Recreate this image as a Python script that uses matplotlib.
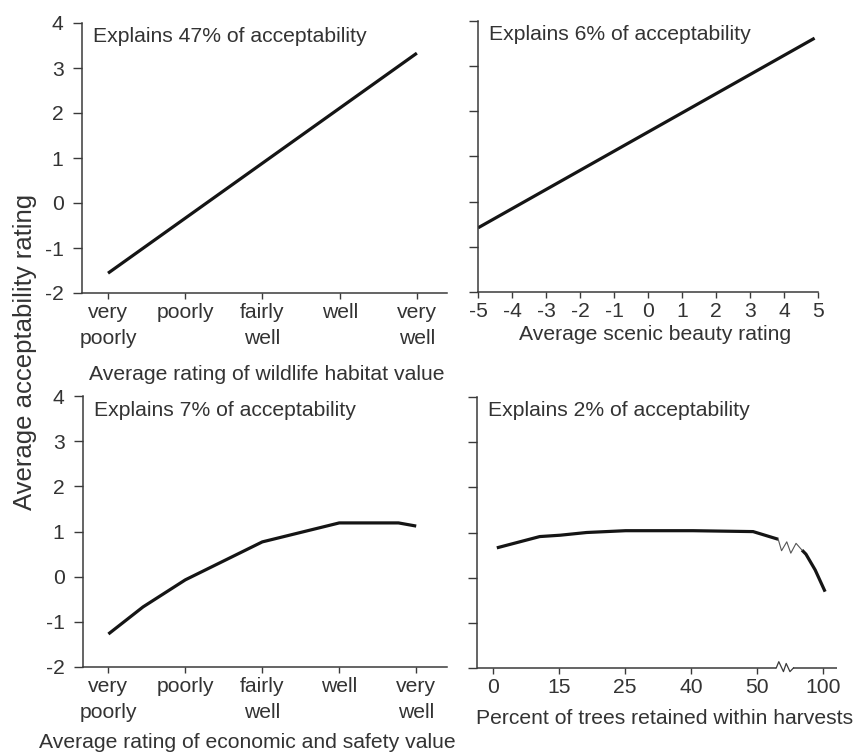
import numpy as np
import matplotlib
matplotlib.use('Agg')
import matplotlib.pyplot as plt

plt.rcParams['font.family'] = ['Liberation Sans', 'DejaVu Sans']
plt.rcParams['axes.unicode_minus'] = False

# ---------------- data ----------------
rating_labels = ['very\npoorly', 'poorly', 'fairly\nwell', 'well', 'very\nwell']
rating_pos = [1, 2, 3, 4, 5]

wildlife_x = [1, 5]
wildlife_y = [-1.56, 3.33]

scenic_ticks = [-5, -4, -3, -2, -1, 0, 1, 2, 3, 4, 5]
scenic_x = [-5, 4.9]
scenic_y = [-0.58, 3.62]

econ_x = [1, 1.45, 2, 3, 4, 4.77, 5]
econ_y = [-1.27, -0.67, -0.07, 0.77, 1.19, 1.19, 1.12]

retained_labels = ['0', '15', '25', '40', '50', '100']
retained_pos = [0, 1, 2, 3, 4, 5]
retained_x_a = [0.06, 0.71, 1.02, 1.42, 2.01, 3.03, 3.94, 4.32]
retained_y_a = [0.66, 0.91, 0.94, 1.00, 1.04, 1.04, 1.02, 0.85]
retained_x_b = [4.68, 4.74, 4.88, 5.03]
retained_y_b = [0.61, 0.52, 0.17, -0.31]

explained = ['47%', '6%', '7%', '2%']
y_ticks = [-2, -1, 0, 1, 2, 3, 4]

# ---------------- style ----------------
W, H = 860, 754
TXT = '#333333'
SP = '#3a3a3a'
LINE = '#151515'
FS = 15.2

fig = plt.figure(figsize=(W / 100, H / 100), dpi=100)


def box(l, t, r, b):
    return [l / W, 1 - b / H, (r - l) / W, (b - t) / H]


axTL = fig.add_axes(box(82, 23, 447, 293))
axTR = fig.add_axes(box(478, 21, 818, 292))
axBL = fig.add_axes(box(83, 396, 447, 667))
axBR = fig.add_axes(box(477, 397, 837, 668))

for ax in (axTL, axTR, axBL, axBR):
    ax.set_ylim(-2, 4)
    ax.set_yticks(y_ticks)
    for s in ('top', 'right'):
        ax.spines[s].set_visible(False)
    for s in ('left', 'bottom'):
        ax.spines[s].set_color(SP)
        ax.spines[s].set_linewidth(1.1)
    ax.tick_params(axis='y', direction='out', length=6.3, width=1.0,
                   color=SP, labelsize=FS, labelcolor=TXT, pad=7)
    ax.tick_params(axis='x', direction='out', length=4.0, width=1.0,
                   color=SP, labelsize=FS, labelcolor=TXT, pad=3.5)
    ax.set_facecolor('none')

for ax in (axTR, axBR):
    ax.tick_params(axis='y', labelleft=False)

# top-left
axTL.set_xlim(0.663, 5.39)
axTL.set_xticks(rating_pos)
axTL.set_xticklabels(rating_labels, linespacing=1.45)
axTL.plot(wildlife_x, wildlife_y, color=LINE, lw=2.3, solid_capstyle='butt')

# top-right
axTR.set_xlim(-5, 5)
axTR.set_xticks(scenic_ticks)
axTR.set_xticklabels([str(v) for v in scenic_ticks])
axTR.plot(scenic_x, scenic_y, color=LINE, lw=2.3, solid_capstyle='butt')

# bottom-left
axBL.set_xlim(0.67, 5.40)
axBL.set_xticks(rating_pos)
axBL.set_xticklabels(rating_labels, linespacing=1.45)
axBL.plot(econ_x, econ_y, color=LINE, lw=2.3, solid_capstyle='butt')

# bottom-right (broken axis)
axBR.set_xlim(-0.24, 5.21)
axBR.set_xticks(retained_pos)
axBR.set_xticklabels(retained_labels)
axBR.plot(retained_x_a, retained_y_a, color=LINE, lw=2.3, solid_capstyle='butt')
axBR.plot(retained_x_b, retained_y_b, color=LINE, lw=2.3, solid_capstyle='butt')

# break marks on the line
x0, y0 = retained_x_a[-1], retained_y_a[-1]
x1, y1 = retained_x_b[0], retained_y_b[0]
fr = np.array([0, .14, .36, .53, .75, 1.0])
off = np.array([0, -.22, .03, -.18, .09, 0])
axBR.plot(x0 + fr * (x1 - x0), y0 + fr * (y1 - y0) + off, color='#555555', lw=0.8)

# broken x-axis spine
axBR.spines['bottom'].set_visible(False)
xl = axBR.get_xlim()
bx0, bx1 = 4.29, 4.55
axBR.plot([xl[0], bx0], [-2, -2], color=SP, lw=1.1, clip_on=False, solid_capstyle='butt')
axBR.plot([bx1, xl[1]], [-2, -2], color=SP, lw=1.1, clip_on=False, solid_capstyle='butt')
fr2 = np.array([0, .15, .42, .58, .8, 1.0])
off2 = np.array([0, .14, -.08, .1, -.08, 0])
axBR.plot(bx0 + fr2 * (bx1 - bx0), -2 + off2, color=SP, lw=0.9, clip_on=False)

# annotations
for ax, pct, dy in ((axTL, explained[0], -13), (axTR, explained[1], -13),
                    (axBL, explained[2], -15), (axBR, explained[3], -14)):
    ax.annotate('Explains %s of acceptability' % pct, xy=(0, 1), xycoords='axes fraction',
                xytext=(8, dy * 0.72), textcoords='offset points',
                ha='left', va='center', fontsize=FS, color=TXT)

# axis labels
def ftext(x, y, s, **kw):
    fig.text(x / W, 1 - y / H, s, ha='center', va='center', color=TXT, **kw)

ftext(267, 374, 'Average rating of wildlife habitat value', fontsize=FS)
ftext(655, 334, 'Average scenic beauty rating', fontsize=FS)
ftext(247, 743, 'Average rating of economic and safety value', fontsize=FS)
ftext(665, 718, 'Percent of trees retained within harvests', fontsize=FS)
ftext(25, 352, 'Average acceptability rating', fontsize=18.5, rotation=90)

fig.savefig('out.png', dpi=100, facecolor='white')
